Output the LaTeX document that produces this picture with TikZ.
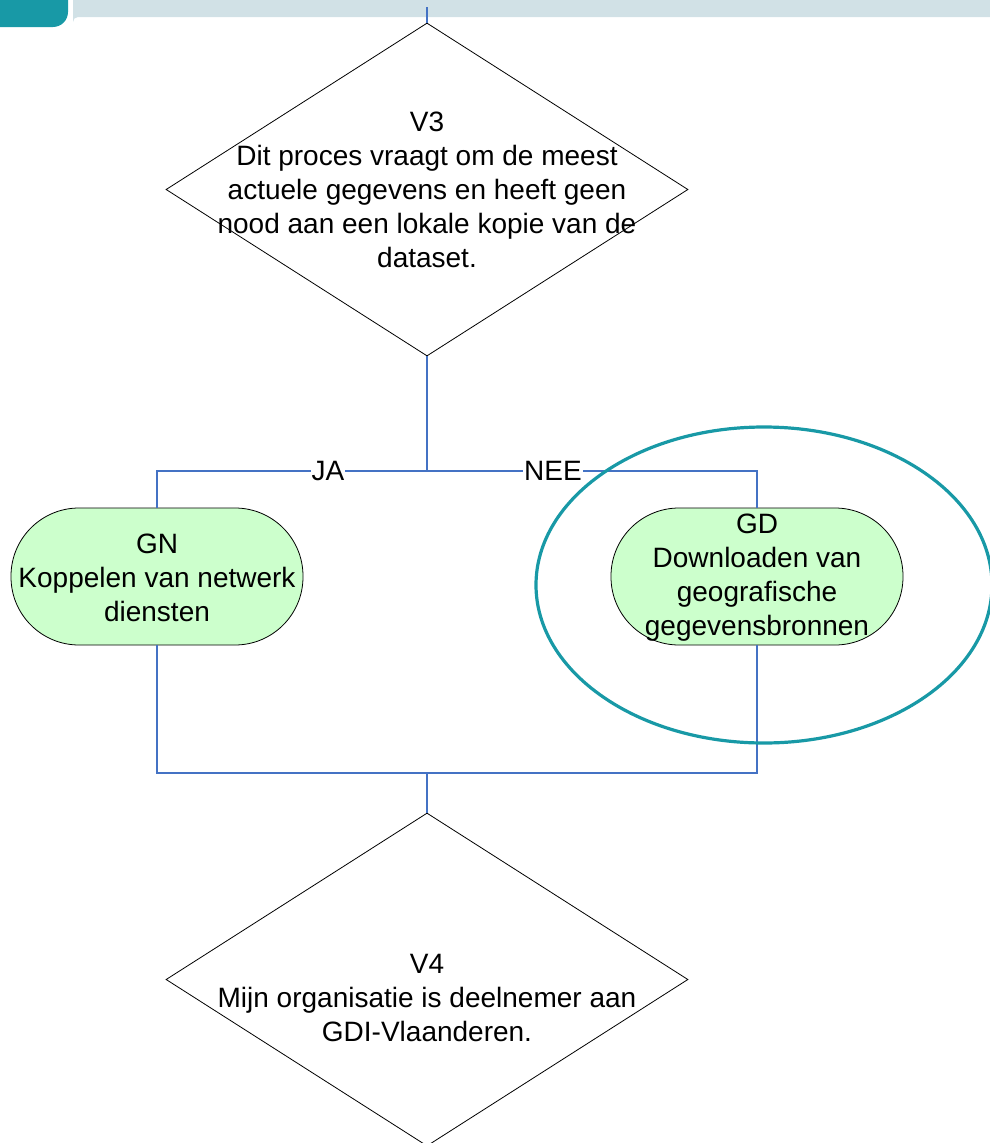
\documentclass[tikz,border=0pt]{standalone}
\usepackage{fontspec}
\setmainfont{Liberation Sans}
\usetikzlibrary{shapes.geometric}
\definecolor{conn}{HTML}{4472C4}
\definecolor{teal}{HTML}{1899A6}
\definecolor{barc}{HTML}{D1E1E6}
\definecolor{lgreen}{HTML}{CCFFCC}
\tikzset{
  decision/.style={diamond, draw=black, line width=0.8pt, minimum width=522pt, minimum height=333pt, inner sep=0pt, fill=white},
  terminal/.style={rectangle, rounded corners=68pt, draw=black, line width=0.8pt, fill=lgreen, minimum width=292pt, minimum height=137pt, inner sep=0pt},
  txt/.style={align=center, font=\fontsize{28}{34}\selectfont, inner sep=0pt, anchor=north},
  lbl/.style={font=\fontsize{28}{34}\selectfont, fill=white, inner sep=1pt},
  link/.style={draw=conn, line width=2.2pt},
  ring/.style={draw=teal, line width=3.2pt}
}
\begin{document}
\begin{tikzpicture}[x=1pt,y=-1pt]
\useasboundingbox (0,0) rectangle (990,1143);
% header decoration
\fill[barc] (73,0) -- (990,0) -- (990,17) -- (78,17) arc[start angle=270,end angle=180,radius=5] -- cycle;
\fill[teal] (0,0) -- (68,0) -- (68,12) arc[start angle=0,end angle=90,radius=15] -- (0,27) -- cycle;
% nodes
\coordinate (top) at (427,7);
\node[decision] (v3) at (427,189.5) {};
\node[txt] (v3t) at (427,112) {V3\\Dit proces vraagt om de meest\\actuele gegevens en heeft geen\\nood aan een lokale kopie van de\\dataset.};
\node[terminal] (gn) at (157,576.5) {};
\node[txt] (gnt) at (157,534) {GN\\Koppelen van netwerk\\diensten};
\node[terminal] (gd) at (757,576.5) {};
\node[txt] (gdt) at (757,514) {GD\\Downloaden van\\geografische\\gegevensbronnen};
\node[decision] (v4) at (427,979.5) {};
\node[txt] (v4t) at (427,954) {V4\\Mijn organisatie is deelnemer aan\\GDI-Vlaanderen.};
\coordinate (j1) at (427,471);
\coordinate (j2) at (427,773);
% connectors
\draw[link] (top) -- (v3.north);
\draw[link] (v3.south) -- (j1);
\draw[link] (gn.north) |- (j1) -| (gd.north);
\draw[link] (gn.south) |- (j2) -| (gd.south);
\draw[link] (j2) -- (v4.north);
\node[lbl] (ja) at (328,471) {JA};
\node[lbl] (nee) at (553,471) {NEE};
% highlight ellipse
\draw[ring] (764,585) ellipse[x radius=228, y radius=158];
\end{tikzpicture}
\end{document}
